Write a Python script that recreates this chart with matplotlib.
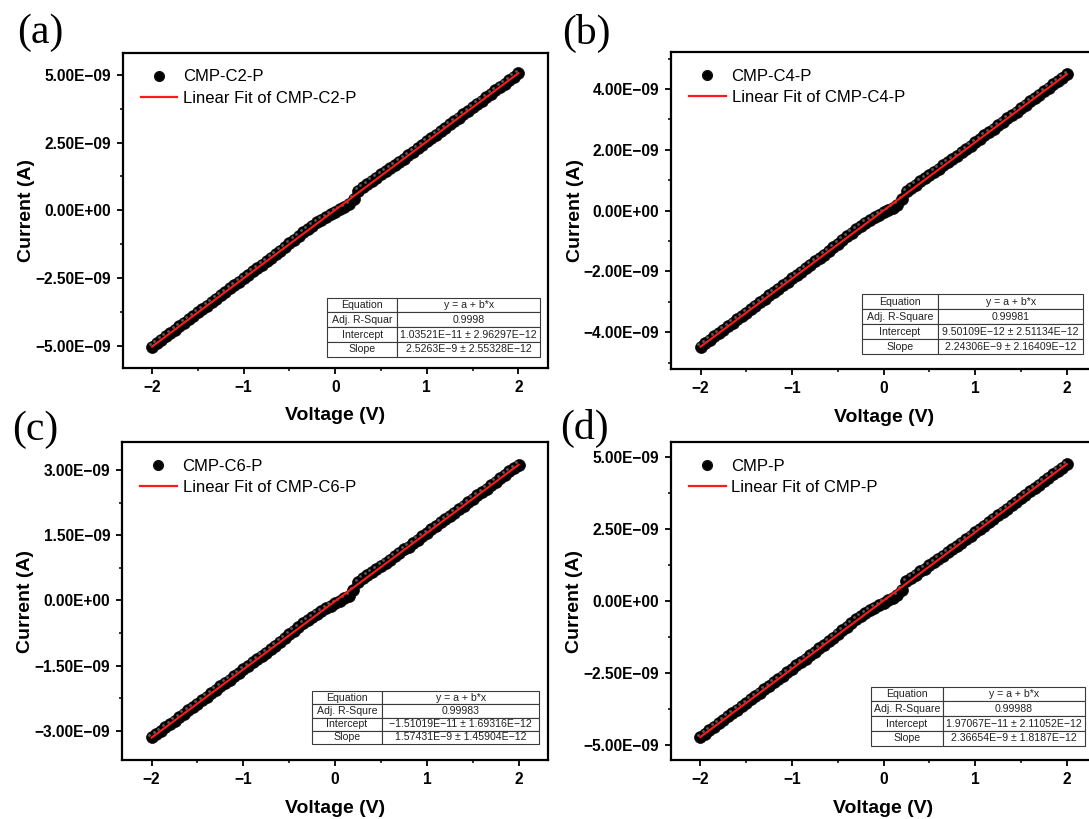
import numpy as np
import matplotlib
matplotlib.use("Agg")
import matplotlib.pyplot as plt
from matplotlib.ticker import FixedLocator, AutoMinorLocator, FuncFormatter
from matplotlib.transforms import offset_copy
from matplotlib.lines import Line2D

# ---------------------------------------------------------------- data
# bias voltage sweep (V)
VOLTAGE = [
    -2.00, -1.95, -1.90, -1.85, -1.80, -1.75, -1.70, -1.65, -1.60, -1.55,
    -1.50, -1.45, -1.40, -1.35, -1.30, -1.25, -1.20, -1.15, -1.10, -1.05,
    -1.00, -0.95, -0.90, -0.85, -0.80, -0.75, -0.70, -0.65, -0.60, -0.55,
    -0.50, -0.45, -0.40, -0.35, -0.30, -0.25, -0.20, -0.15, -0.10, -0.05,
    0.00, 0.05, 0.10, 0.15, 0.20, 0.25, 0.30, 0.35, 0.40, 0.45,
    0.50, 0.55, 0.60, 0.65, 0.70, 0.75, 0.80, 0.85, 0.90, 0.95,
    1.00, 1.05, 1.10, 1.15, 1.20, 1.25, 1.30, 1.35, 1.40, 1.45,
    1.50, 1.55, 1.60, 1.65, 1.70, 1.75, 1.80, 1.85, 1.90, 1.95,
    2.00,
]

# measured current (nA)
CURRENT_C2 = [
    -5.04, -4.92, -4.79, -4.66, -4.54, -4.41, -4.28, -4.16, -4.03, -3.91,
    -3.78, -3.65, -3.53, -3.40, -3.27, -3.15, -3.02, -2.89, -2.77, -2.64,
    -2.52, -2.39, -2.26, -2.14, -2.01, -1.88, -1.76, -1.63, -1.50, -1.37,
    -1.22, -1.09, -0.95, -0.82, -0.69, -0.57, -0.45, -0.35, -0.25, -0.15,
    -0.06, 0.03, 0.11, 0.22, 0.42, 0.72, 0.86, 0.97, 1.09, 1.20,
    1.32, 1.44, 1.55, 1.67, 1.79, 1.91, 2.03, 2.16, 2.28, 2.41,
    2.54, 2.66, 2.79, 2.92, 3.04, 3.17, 3.29, 3.42, 3.55, 3.67,
    3.80, 3.93, 4.05, 4.18, 4.31, 4.43, 4.56, 4.68, 4.81, 4.94,
    5.06,
]
CURRENT_C4 = [
    -4.48, -4.36, -4.25, -4.14, -4.03, -3.92, -3.80, -3.69, -3.58, -3.47,
    -3.36, -3.24, -3.13, -3.02, -2.91, -2.79, -2.68, -2.57, -2.46, -2.35,
    -2.23, -2.12, -2.01, -1.90, -1.78, -1.67, -1.56, -1.45, -1.33, -1.21,
    -1.09, -0.96, -0.84, -0.73, -0.61, -0.51, -0.40, -0.31, -0.22, -0.13,
    -0.05, 0.02, 0.10, 0.20, 0.37, 0.64, 0.76, 0.86, 0.97, 1.06,
    1.17, 1.28, 1.38, 1.49, 1.60, 1.70, 1.80, 1.92, 2.03, 2.14,
    2.25, 2.36, 2.48, 2.59, 2.70, 2.81, 2.93, 3.04, 3.15, 3.26,
    3.37, 3.49, 3.60, 3.71, 3.82, 3.93, 4.05, 4.16, 4.27, 4.38,
    4.50,
]
CURRENT_C6 = [
    -3.16, -3.09, -3.01, -2.93, -2.85, -2.77, -2.69, -2.61, -2.53, -2.46,
    -2.38, -2.30, -2.22, -2.14, -2.06, -1.98, -1.90, -1.83, -1.75, -1.67,
    -1.59, -1.51, -1.43, -1.35, -1.27, -1.20, -1.12, -1.04, -0.95, -0.87,
    -0.78, -0.70, -0.62, -0.53, -0.45, -0.38, -0.30, -0.24, -0.18, -0.12,
    -0.06, -0.01, 0.05, 0.11, 0.24, 0.43, 0.51, 0.59, 0.66, 0.72,
    0.80, 0.87, 0.94, 1.02, 1.10, 1.18, 1.24, 1.32, 1.40, 1.48,
    1.56, 1.64, 1.72, 1.80, 1.87, 1.95, 2.03, 2.11, 2.19, 2.27,
    2.35, 2.43, 2.50, 2.58, 2.66, 2.74, 2.82, 2.90, 2.98, 3.05,
    3.13,
]
CURRENT_P = [
    -4.71, -4.60, -4.48, -4.36, -4.24, -4.12, -4.00, -3.89, -3.77, -3.65,
    -3.53, -3.41, -3.29, -3.18, -3.06, -2.94, -2.82, -2.70, -2.58, -2.47,
    -2.35, -2.23, -2.11, -1.99, -1.87, -1.76, -1.64, -1.52, -1.39, -1.27,
    -1.13, -1.01, -0.88, -0.76, -0.63, -0.52, -0.42, -0.32, -0.23, -0.13,
    -0.05, 0.03, 0.12, 0.21, 0.40, 0.69, 0.81, 0.92, 1.03, 1.13,
    1.25, 1.36, 1.47, 1.58, 1.69, 1.80, 1.91, 2.03, 2.15, 2.27,
    2.39, 2.50, 2.62, 2.74, 2.86, 2.98, 3.10, 3.21, 3.33, 3.45,
    3.57, 3.69, 3.81, 3.92, 4.04, 4.16, 4.28, 4.40, 4.52, 4.63,
    4.75,
]

SAMPLES = ["CMP-C2-P", "CMP-C4-P", "CMP-C6-P", "CMP-P"]
PANEL_TAGS = ["(a)", "(b)", "(c)", "(d)"]

# linear fit results  y = a + b*x
FIT_INTERCEPT = [1.03521e-11, 9.50109e-12, -1.51019e-11, 1.97067e-11]
FIT_INTERCEPT_ERR = [2.96297e-12, 2.51134e-12, 1.69316e-12, 2.11052e-12]
FIT_SLOPE = [2.5263e-9, 2.24306e-9, 1.57431e-9, 2.36654e-9]
FIT_SLOPE_ERR = [2.55328e-12, 2.16409e-12, 1.45904e-12, 1.8187e-12]
ADJ_R2 = ["0.9998", "0.99981", "0.99983", "0.99988"]
ADJ_R2_LABEL = ["Adj. R-Squar", "Adj. R-Square", "Adj. R-Squre", "Adj. R-Square"]

X_TICKS = [-2, -1, 0, 1, 2]
Y_TICKS = [
    [-5.0e-9, -2.5e-9, 0.0, 2.5e-9, 5.0e-9],
    [-4.0e-9, -2.0e-9, 0.0, 2.0e-9, 4.0e-9],
    [-3.0e-9, -1.5e-9, 0.0, 1.5e-9, 3.0e-9],
    [-5.0e-9, -2.5e-9, 0.0, 2.5e-9, 5.0e-9],
]
Y_LIMITS = [(-5.82e-9, 5.82e-9), (-5.21e-9, 5.23e-9),
            (-3.68e-9, 3.65e-9), (-5.51e-9, 5.51e-9)]

# ---------------------------------------------------------------- layout
W, H = 1089, 819
AX_BOXES = [  # left, top, right, bottom in pixels
    (122.7, 52.7, 547.7, 367.7),
    (671.2, 51.7, 1096.2, 369.0),
    (122.2, 442.3, 548.0, 760.0),
    (671.0, 442.3, 1096.0, 760.0),
]
TABLE_BOXES = [  # x0, y0, x1, y1 in axes fraction, first column fraction
    (0.481, 0.035, 0.982, 0.222, 0.33),
    (0.449, 0.046, 0.970, 0.236, 0.343),
    (0.446, 0.050, 0.980, 0.217, 0.306),
    (0.470, 0.045, 0.973, 0.231, 0.338),
]
TAG_POS = [(40, 33), (586, 33), (35, 430), (584, 428)]

SANS = "Liberation Sans"
SERIF = "Liberation Serif"
MINUS = "\u2212"

plt.rcParams["font.family"] = [SANS, "DejaVu Sans"]
plt.rcParams["axes.unicode_minus"] = True


def sci_label(v, pos=None):
    return f"{v:.2E}".replace("-", MINUS)


def fit_text(v):
    e = int(np.floor(np.log10(abs(v))))
    m = v / 10.0 ** e
    return f"{m:.6g}E{e}".replace("-", MINUS)


fig = plt.figure(figsize=(W / 100, H / 100), dpi=100)
fig.patch.set_facecolor("white")

volt = np.array(VOLTAGE)
currents = [CURRENT_C2, CURRENT_C4, CURRENT_C6, CURRENT_P]

for i in range(4):
    l, t, r, b = AX_BOXES[i]
    ax = fig.add_axes([l / W, 1 - b / H, (r - l) / W, (b - t) / H])
    cur = np.array(currents[i]) * 1e-9

    # data points drawn as shaded balls
    ax.plot(volt, cur, ls="none", marker="o", ms=8.6, mfc="black",
            mec="#0a0a0a", mew=0.5, zorder=2)
    hl = offset_copy(ax.transData, fig=fig, x=-1.7, y=1.7, units="points")
    ax.plot(volt, cur, ls="none", marker="o", ms=2.0, mfc="#5c5c5c",
            mec="none", transform=hl, zorder=3)

    # fitted line from the reported parameters
    xf = np.array([VOLTAGE[0], VOLTAGE[-1]])
    ax.plot(xf, FIT_INTERCEPT[i] + FIT_SLOPE[i] * xf, color="#ff1a1a",
            lw=1.5, zorder=4)

    ax.set_xlim(-2.32, 2.32)
    ax.set_ylim(*Y_LIMITS[i])
    ax.xaxis.set_major_locator(FixedLocator(X_TICKS))
    ax.yaxis.set_major_locator(FixedLocator(Y_TICKS[i]))
    ax.xaxis.set_minor_locator(AutoMinorLocator(2))
    ax.yaxis.set_minor_locator(AutoMinorLocator(2))
    ax.yaxis.set_major_formatter(FuncFormatter(sci_label))
    ax.xaxis.set_major_formatter(
        FuncFormatter(lambda v, p: f"{v:g}".replace("-", MINUS)))
    ax.tick_params(which="major", direction="out", length=4.0, width=1.3,
                   pad=4.5, labelsize=11.2)
    ax.tick_params(which="minor", direction="out", length=2.3, width=1.1)
    for lab in ax.get_xticklabels() + ax.get_yticklabels():
        lab.set_fontweight("bold")
        lab.set_fontfamily(SANS)
    for s in ax.spines.values():
        s.set_linewidth(1.6)

    ax.set_xlabel("Voltage (V)", fontsize=14, fontweight="bold",
                  fontfamily=SANS)
    ax.set_ylabel("Current (A)", fontsize=14, fontweight="bold",
                  fontfamily=SANS)
    ax.xaxis.set_label_coords(0.5, -0.126)
    ax.yaxis.set_label_coords(-0.206, 0.5)

    handles = [
        Line2D([], [], ls="none", marker="o", ms=7.0, mfc="black",
               mec="#111111"),
        Line2D([], [], color="#ff1a1a", lw=1.6),
    ]
    ax.legend(handles, [SAMPLES[i], "Linear Fit of " + SAMPLES[i]],
              loc="upper left", bbox_to_anchor=(0.042, 0.947),
              frameon=False, prop={"family": SANS, "size": 12},
              handlelength=2.2, handletextpad=0.35, labelspacing=0.37,
              borderpad=0, borderaxespad=0)

    # fit summary table
    x0, y0, x1, y1, c1 = TABLE_BOXES[i]
    rows = [
        ["Equation", "y = a + b*x"],
        [ADJ_R2_LABEL[i], ADJ_R2[i]],
        ["Intercept", fit_text(FIT_INTERCEPT[i]) + " \u00b1 "
         + fit_text(FIT_INTERCEPT_ERR[i])],
        ["Slope", fit_text(FIT_SLOPE[i]) + " \u00b1 "
         + fit_text(FIT_SLOPE_ERR[i])],
    ]
    tb = ax.table(cellText=rows, colWidths=[c1, 1 - c1],
                  cellLoc="center", bbox=[x0, y0, x1 - x0, y1 - y0],
                  zorder=6)
    tb.auto_set_font_size(False)
    for cell in tb.get_celld().values():
        cell.set_linewidth(0.8)
        cell.set_edgecolor("#3a3a3a")
        cell.set_facecolor("white")
        cell.get_text().set_fontsize(7.6)
        cell.get_text().set_fontfamily(SANS)
        cell.get_text().set_color("#222222")
        cell.PAD = 0.02

    tx, ty = TAG_POS[i]
    fig.text(tx / W, 1 - ty / H, PANEL_TAGS[i], fontsize=30,
             fontfamily=SERIF, ha="center", va="center")

fig.savefig("out.png", dpi=100, facecolor="white")
